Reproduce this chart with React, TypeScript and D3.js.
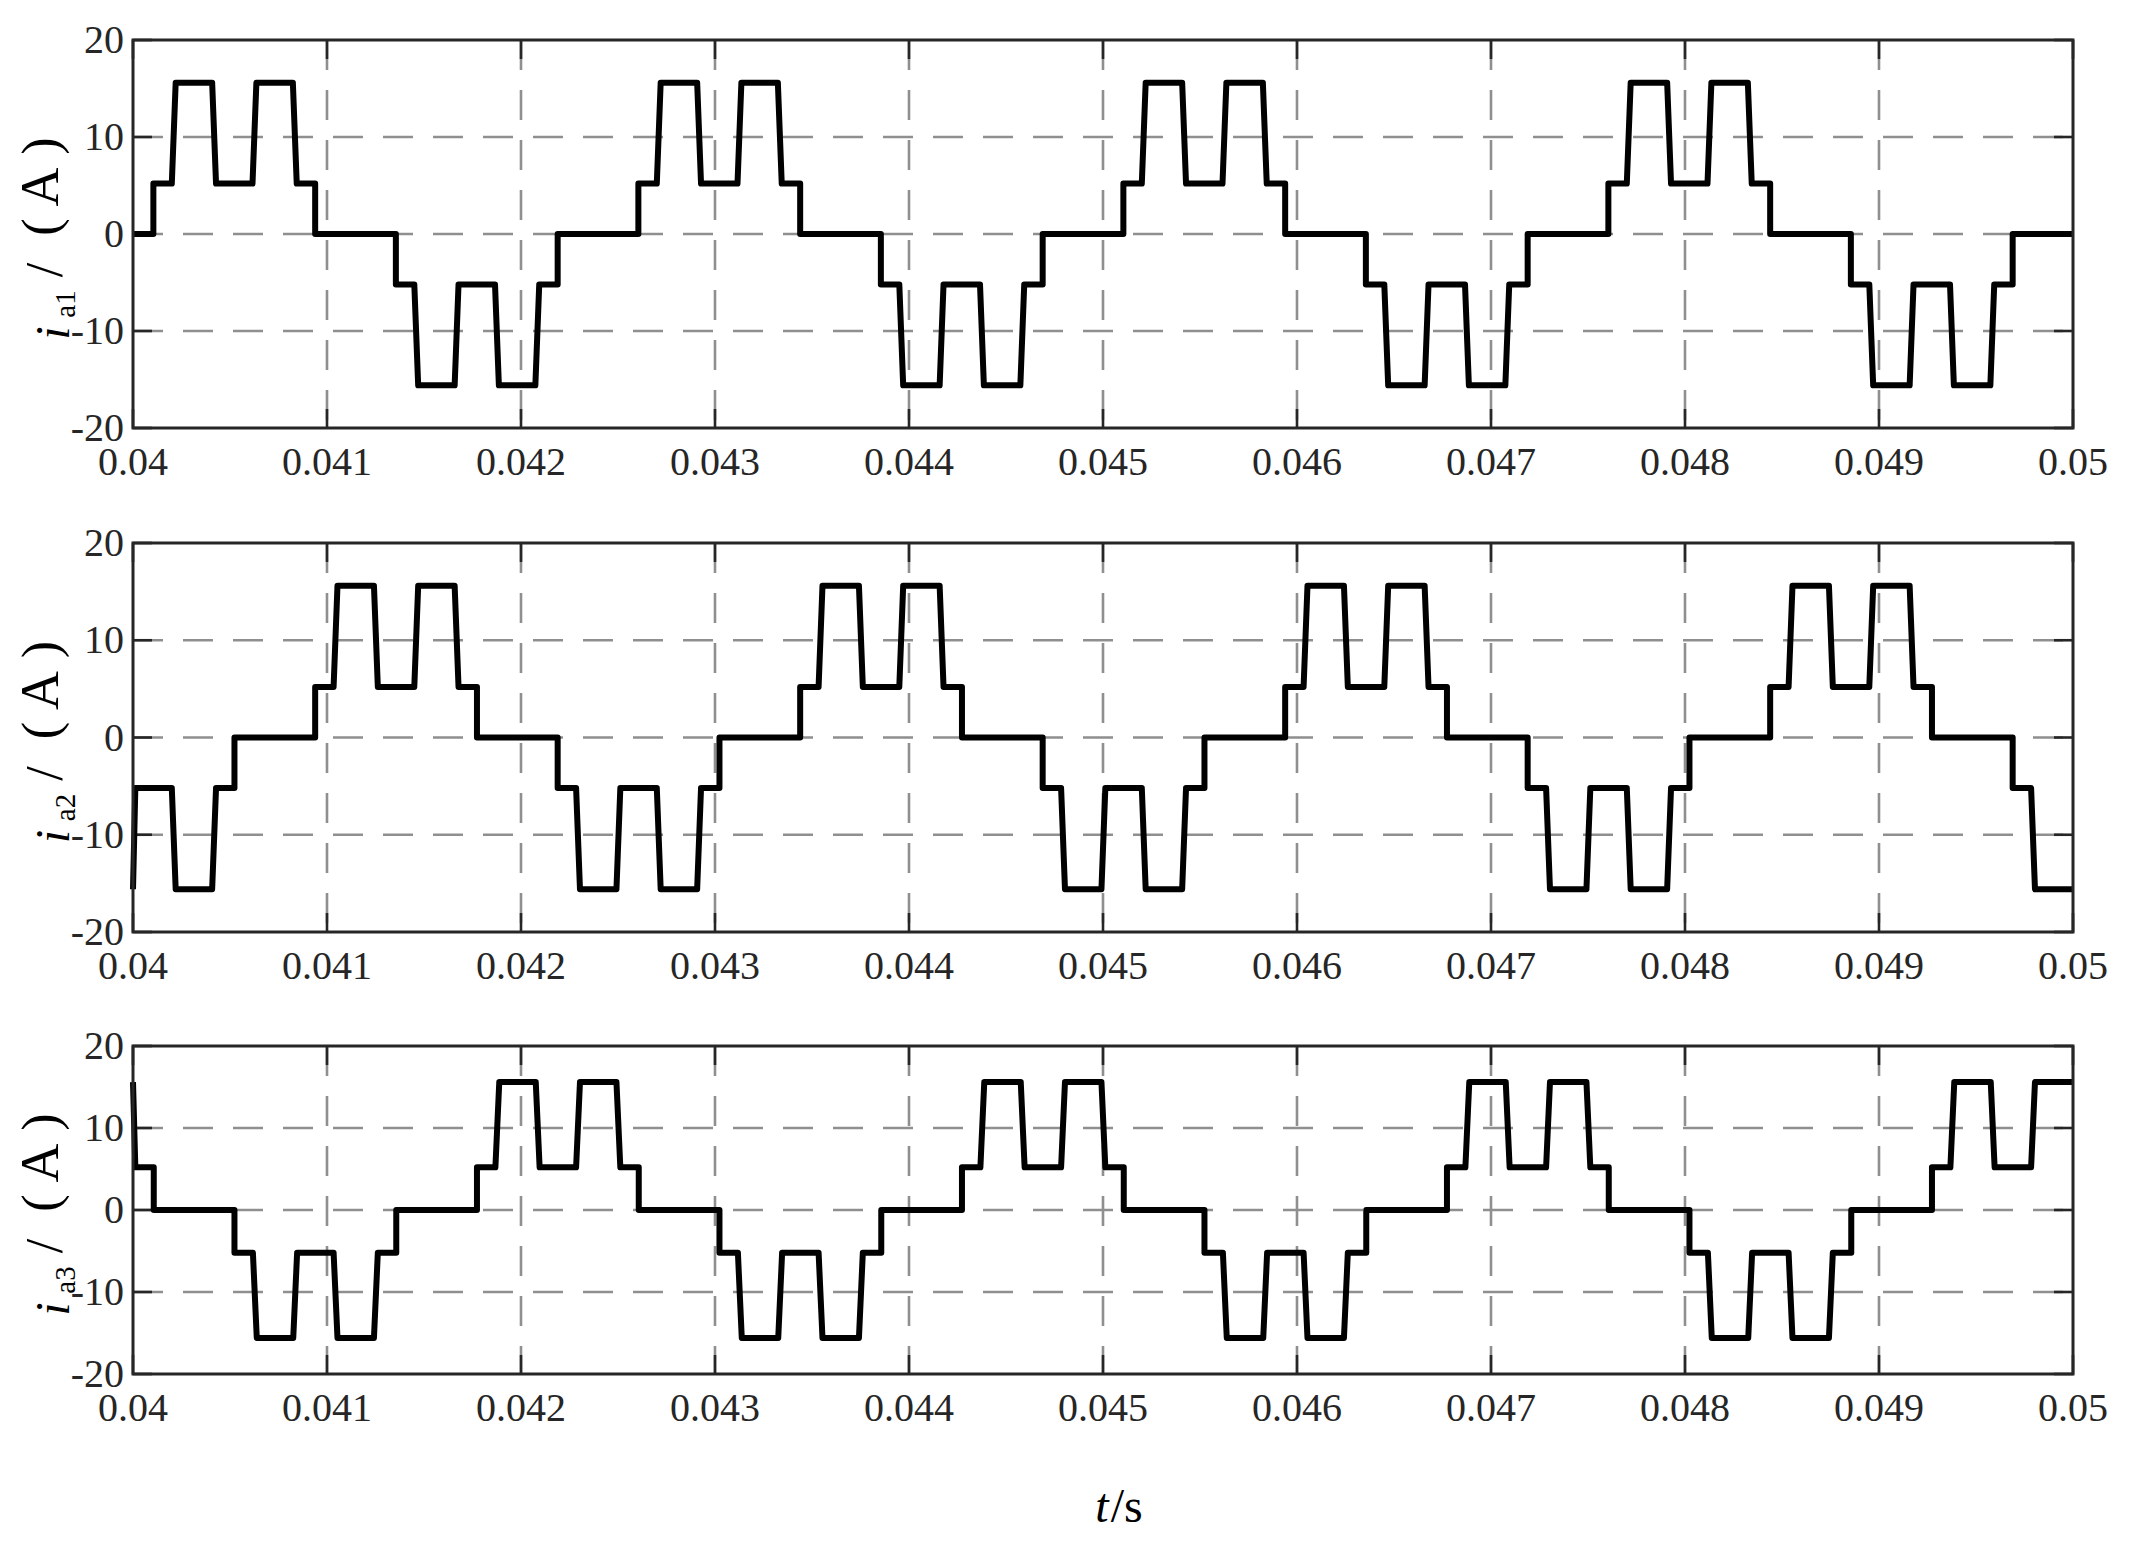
import React from 'react';
import * as d3 from 'd3';

const W = 2130;
const H = 1552;

const xTicks = [0.04, 0.041, 0.042, 0.043, 0.044, 0.045, 0.046, 0.047, 0.048, 0.049, 0.05];
const xTickLabels = ['0.04', '0.041', '0.042', '0.043', '0.044', '0.045', '0.046', '0.047', '0.048', '0.049', '0.05'];
const yTicks = [-20, -10, 0, 10, 20];
const yTickLabels = ['-20', '-10', '0', '10', '20'];
const yGrid = [-10, 0, 10];

// Breakpoints (time at which a level starts) and the level that follows
const ia1Times = [
  0.04, 0.040105, 0.04021, 0.040418, 0.040626, 0.040834, 0.040939, 0.041355, 0.04146, 0.041668, 0.041876, 0.042084, 0.042189,
  0.042605, 0.04271, 0.042918, 0.043126, 0.043334, 0.043439, 0.043855, 0.04396, 0.044168, 0.044376, 0.044584, 0.044689,
  0.045105, 0.04521, 0.045418, 0.045626, 0.045834, 0.045939, 0.046355, 0.04646, 0.046668, 0.046876, 0.047084, 0.047189,
  0.047605, 0.04771, 0.047918, 0.048126, 0.048334, 0.048439, 0.048855, 0.04896, 0.049168, 0.049376, 0.049584, 0.049689,
];
const ia1Values = [
  0, 5.2, 15.6, 5.2, 15.6, 5.2, 0, -5.2, -15.6, -5.2, -15.6, -5.2, 0,
  5.2, 15.6, 5.2, 15.6, 5.2, 0, -5.2, -15.6, -5.2, -15.6, -5.2, 0,
  5.2, 15.6, 5.2, 15.6, 5.2, 0, -5.2, -15.6, -5.2, -15.6, -5.2, 0,
  5.2, 15.6, 5.2, 15.6, 5.2, 0, -5.2, -15.6, -5.2, -15.6, -5.2, 0,
];

const ia2Times = [
  0.04, 0.040002, 0.04021, 0.040418, 0.040523,
  0.040939, 0.041044, 0.041252, 0.04146, 0.041668, 0.041773, 0.042189, 0.042294, 0.042502, 0.04271, 0.042918, 0.043023,
  0.043439, 0.043544, 0.043752, 0.04396, 0.044168, 0.044273, 0.044689, 0.044794, 0.045002, 0.04521, 0.045418, 0.045523,
  0.045939, 0.046044, 0.046252, 0.04646, 0.046668, 0.046773, 0.047189, 0.047294, 0.047502, 0.04771, 0.047918, 0.048023,
  0.048439, 0.048544, 0.048752, 0.04896, 0.049168, 0.049273, 0.049689, 0.049794,
];
const ia2Values = [
  -15.6, -5.2, -15.6, -5.2, 0,
  5.2, 15.6, 5.2, 15.6, 5.2, 0, -5.2, -15.6, -5.2, -15.6, -5.2, 0,
  5.2, 15.6, 5.2, 15.6, 5.2, 0, -5.2, -15.6, -5.2, -15.6, -5.2, 0,
  5.2, 15.6, 5.2, 15.6, 5.2, 0, -5.2, -15.6, -5.2, -15.6, -5.2, 0,
  5.2, 15.6, 5.2, 15.6, 5.2, 0, -5.2, -15.6,
];

const ia3Times = [
  0.04, 0.040002, 0.040107,
  0.040523, 0.040628, 0.040836, 0.041044, 0.041252, 0.041357, 0.041773, 0.041878, 0.042086, 0.042294, 0.042502, 0.042607,
  0.043023, 0.043128, 0.043336, 0.043544, 0.043752, 0.043857, 0.044273, 0.044378, 0.044586, 0.044794, 0.045002, 0.045107,
  0.045523, 0.045628, 0.045836, 0.046044, 0.046252, 0.046357, 0.046773, 0.046878, 0.047086, 0.047294, 0.047502, 0.047607,
  0.048023, 0.048128, 0.048336, 0.048544, 0.048752, 0.048857, 0.049273, 0.049378, 0.049586, 0.049794,
];
const ia3Values = [
  15.6, 5.2, 0,
  -5.2, -15.6, -5.2, -15.6, -5.2, 0, 5.2, 15.6, 5.2, 15.6, 5.2, 0,
  -5.2, -15.6, -5.2, -15.6, -5.2, 0, 5.2, 15.6, 5.2, 15.6, 5.2, 0,
  -5.2, -15.6, -5.2, -15.6, -5.2, 0, 5.2, 15.6, 5.2, 15.6, 5.2, 0,
  -5.2, -15.6, -5.2, -15.6, -5.2, 0, 5.2, 15.6, 5.2, 15.6,
];

const seriesSubscripts = ['a1', 'a2', 'a3'];

const LEFT = 133;
const RIGHT = 2073;
const panels = [
  { top: 40, bottom: 428, times: ia1Times, values: ia1Values },
  { top: 543, bottom: 932, times: ia2Times, values: ia2Values },
  { top: 1046, bottom: 1374, times: ia3Times, values: ia3Values },
];

const AXIS_COLOR = '#262626';
const GRID_COLOR = '#8f8f8f';
const FONT = '"Liberation Serif", "Times New Roman", serif';
const TICK_LEN = 19;
const RAMP = 0.00001; // half-width of the slight slope on the large edges

function buildPoints(times: number[], values: number[]): [number, number][] {
  const pts: [number, number][] = [[times[0], values[0]]];
  for (let i = 1; i < times.length; i++) {
    const vp = values[i - 1];
    const v = values[i];
    const big = Math.abs(Math.abs(v) - Math.abs(vp)) > 8 && Math.sign(v) === Math.sign(vp);
    const r = big ? RAMP : 0;
    pts.push([Math.max(0.04, times[i] - r), vp]);
    pts.push([times[i] + r, v]);
  }
  pts.push([0.05, values[values.length - 1]]);
  return pts;
}

function Panel({ idx, top, bottom, times, values }: any) {
  const x = d3.scaleLinear().domain([0.04, 0.05]).range([LEFT, RIGHT]);
  const y = d3.scaleLinear().domain([-20, 20]).range([bottom, top]);
  const pts = buildPoints(times, values);
  const line = d3
    .line<[number, number]>()
    .x((d) => x(d[0]))
    .y((d) => y(d[1]));
  const cy = (top + bottom) / 2;
  return (
    <g>
      {xTicks.slice(1, -1).map((t) => (
        <line key={'gx' + t} x1={x(t)} x2={x(t)} y1={top} y2={bottom} stroke={GRID_COLOR} strokeWidth={2.6} strokeDasharray="30,20" />
      ))}
      {yGrid.map((v) => (
        <line key={'gy' + v} x1={LEFT} x2={RIGHT} y1={y(v)} y2={y(v)} stroke={GRID_COLOR} strokeWidth={2.6} strokeDasharray="30,20" />
      ))}
      {xTicks.map((t) => (
        <g key={'tx' + t}>
          <line x1={x(t)} x2={x(t)} y1={bottom} y2={bottom - TICK_LEN} stroke={AXIS_COLOR} strokeWidth={2.6} />
          <line x1={x(t)} x2={x(t)} y1={top} y2={top + TICK_LEN} stroke={AXIS_COLOR} strokeWidth={2.6} />
        </g>
      ))}
      {yTicks.map((v) => (
        <g key={'ty' + v}>
          <line x1={LEFT} x2={LEFT + TICK_LEN} y1={y(v)} y2={y(v)} stroke={AXIS_COLOR} strokeWidth={2.6} />
          <line x1={RIGHT} x2={RIGHT - TICK_LEN} y1={y(v)} y2={y(v)} stroke={AXIS_COLOR} strokeWidth={2.6} />
        </g>
      ))}
      <path d={line(pts) || ''} fill="none" stroke="#000" strokeWidth={6} strokeLinejoin="round" />
      <rect x={LEFT} y={top} width={RIGHT - LEFT} height={bottom - top} fill="none" stroke={AXIS_COLOR} strokeWidth={3} />
      {xTicks.map((t, i) => (
        <text key={'lx' + t} x={x(t)} y={bottom + 47} textAnchor="middle" fontFamily={FONT} fontSize={40} fill={AXIS_COLOR}>
          {xTickLabels[i]}
        </text>
      ))}
      {yTicks.map((v, i) => (
        <text key={'ly' + v} x={LEFT - 9} y={y(v) + 13} textAnchor="end" fontFamily={FONT} fontSize={40} fill={AXIS_COLOR}>
          {yTickLabels[i]}
        </text>
      ))}
      <g transform={`translate(58,${cy}) rotate(-90)`} fontFamily={FONT} fill="#000">
        <text x={-99} y={11} textAnchor="middle" fontSize={48} fontStyle="italic">i</text>
        <text x={-70} y={17} textAnchor="middle" fontSize={29}>{seriesSubscripts[idx]}</text>
        <text x={-36} y={4} textAnchor="middle" fontSize={52}>/</text>
        <text x={7} y={0} textAnchor="middle" fontSize={52}>(</text>
        <text x={47} y={0} textAnchor="middle" fontSize={54}>A</text>
        <text x={88} y={0} textAnchor="middle" fontSize={52}>)</text>
      </g>
    </g>
  );
}

export default function App() {
  return (
    <svg width={W} height={H} style={{ position: 'absolute', left: 0, top: 0, background: '#fff' }}>
      <rect x={0} y={0} width={W} height={H} fill="#fff" />
      {panels.map((p, i) => (
        <Panel key={i} idx={i} {...p} />
      ))}
      <text x={1119} y={1522} textAnchor="middle" fontFamily={FONT} fontSize={48} fill="#000">
        <tspan fontStyle="italic">t</tspan>
        <tspan dx={2}>/s</tspan>
      </text>
    </svg>
  );
}
